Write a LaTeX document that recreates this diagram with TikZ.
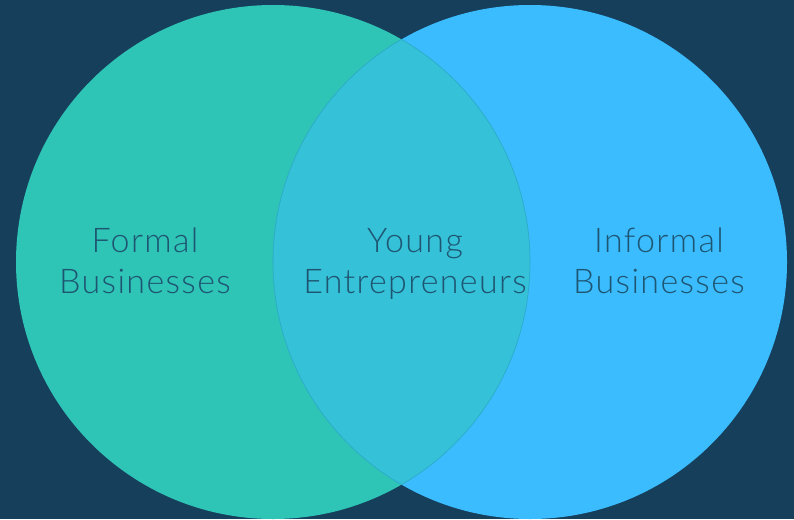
\documentclass[tikz,border=0pt]{standalone}
\usepackage{fontspec}
\newfontfamily\lblfont{Lato}[UprightFont=* Light, LetterSpace=4]
\definecolor{bg}{HTML}{163F5C}
\definecolor{teal}{HTML}{2EC4B6}
\definecolor{sky}{HTML}{3ABCFF}
\definecolor{lens}{HTML}{35C1D8}
\definecolor{lensedge}{HTML}{2CA9C4}
\definecolor{txt}{HTML}{1E5571}
\tikzset{
  lbl/.style={font=\lblfont\fontsize{34}{41}\selectfont, text=txt, align=center, inner sep=0pt, anchor=base}
}
\begin{document}
\begin{tikzpicture}[x=1pt,y=-1pt]
\fill[bg] (0,0) rectangle (794,519);
\useasboundingbox (0,0) rectangle (794,519);
\fill[teal] (273,262) circle (257);
\fill[sky] (530,262) circle (257);
\begin{scope}
  \clip (273,262) circle (257);
  \fill[lens] (530,262) circle (257);
  \draw[lensedge, line width=0.6pt] (530,262) circle (257);
\end{scope}
\begin{scope}
  \clip (530,262) circle (257);
  \draw[lensedge, line width=0.6pt] (273,262) circle (257);
\end{scope}
\node[lbl] (formal) at (145,293) {Formal\\Businesses};
\node[lbl] (young) at (415,293) {Young\\Entrepreneurs};
\node[lbl] (informal) at (659,293) {Informal\\Businesses};
\end{tikzpicture}
\end{document}
